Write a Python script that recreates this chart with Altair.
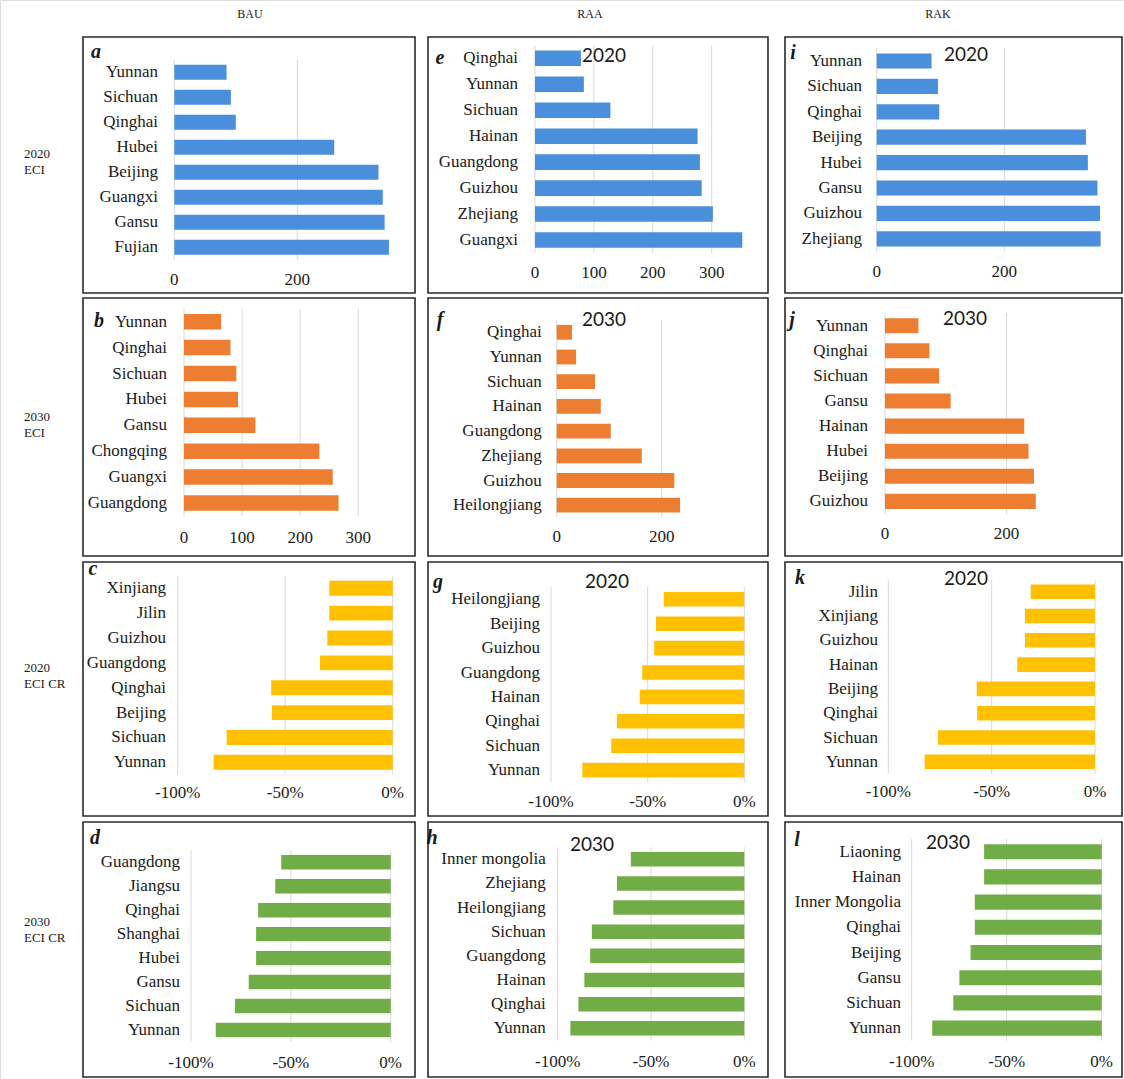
import altair as alt
import pandas as pd

# ---------------- data (top to bottom order in each panel) ----------------
a_cats = ["Yunnan", "Sichuan", "Qinghai", "Hubei", "Beijing", "Guangxi", "Gansu", "Fujian"]
a_vals = [85, 92, 100, 260, 332, 339, 342, 349]
e_cats = ["Qinghai", "Yunnan", "Sichuan", "Hainan", "Guangdong", "Guizhou", "Zhejiang", "Guangxi"]
e_vals = [78, 83, 128, 276, 280, 283, 302, 352]
i_cats = ["Yunnan", "Sichuan", "Qinghai", "Beijing", "Hubei", "Gansu", "Guizhou", "Zhejiang"]
i_vals = [86, 96, 98, 328, 331, 346, 350, 351]

b_cats = ["Yunnan", "Qinghai", "Sichuan", "Hubei", "Gansu", "Chongqing", "Guangxi", "Guangdong"]
b_vals = [64, 80, 90, 93, 123, 233, 256, 266]
f_cats = ["Qinghai", "Yunnan", "Sichuan", "Hainan", "Guangdong", "Zhejiang", "Guizhou", "Heilongjiang"]
f_vals = [29, 37, 73, 84, 103, 162, 224, 235]
j_cats = ["Yunnan", "Qinghai", "Sichuan", "Gansu", "Hainan", "Hubei", "Beijing", "Guizhou"]
j_vals = [55, 73, 89, 108, 229, 236, 245, 248]

c_cats = ["Xinjiang", "Jilin", "Guizhou", "Guangdong", "Qinghai", "Beijing", "Sichuan", "Yunnan"]
c_vals = [-29.5, -29.5, -30.4, -33.8, -56.5, -56.2, -77.2, -83.3]
g_cats = ["Heilongjiang", "Beijing", "Guizhou", "Guangdong", "Hainan", "Qinghai", "Sichuan", "Yunnan"]
g_vals = [-41.7, -45.7, -46.6, -52.8, -54.1, -65.9, -68.8, -83.8]
k_cats = ["Jilin", "Xinjiang", "Guizhou", "Hainan", "Beijing", "Qinghai", "Sichuan", "Yunnan"]
k_vals = [-31.1, -33.9, -33.9, -37.6, -57.2, -57.0, -76.0, -82.4]

d_cats = ["Guangdong", "Jiangsu", "Qinghai", "Shanghai", "Hubei", "Gansu", "Sichuan", "Yunnan"]
d_vals = [-54.8, -57.8, -66.4, -67.4, -67.4, -71.1, -78.0, -87.6]
h_cats = ["Inner mongolia", "Zhejiang", "Heilongjiang", "Sichuan", "Guangdong", "Hainan", "Qinghai", "Yunnan"]
h_vals = [-60.8, -68.2, -70.2, -81.7, -82.6, -85.7, -88.9, -93.2]
l_cats = ["Liaoning", "Hainan", "Inner Mongolia", "Qinghai", "Beijing", "Gansu", "Sichuan", "Yunnan"]
l_vals = [-61.9, -61.9, -66.8, -66.8, -69.0, -74.9, -78.1, -89.2]

ticks_a = [0, 200]
ticks_b = [0, 100, 200, 300]
ticks_pct = [-100, -50, 0]
tick_labels_a = ["0", "200"]
tick_labels_b = ["0", "100", "200", "300"]
tick_labels_pct = ["-100%", "-50%", "0%"]

col_headers = ["BAU", "RAA", "RAK"]
row_top = ["2020", "2030", "2020", "2030"]
row_bottom = ["ECI", "ECI", "ECI CR", "ECI CR"]

BLUE, ORANGE, YELLOW, GREEN = "#4A8FDB", "#ED7D31", "#FFC000", "#70AD47"
SERIF = "Liberation Serif"
SANS = "Lato"


def panel(cats, vals, color, ticks, tlabels, domain, xr, c1, step, lab_r, tick_y):
    r0 = c1 - step / 2
    r1 = r0 + 8 * step
    df = pd.DataFrame({"cat": cats, "val": vals})
    tdf = pd.DataFrame({"t": ticks, "lab": tlabels})
    xs = alt.Scale(domain=domain, range=xr, nice=False)
    ys = alt.Scale(domain=cats, range=[r0, r1], paddingInner=0.4, paddingOuter=0.2)
    grid = alt.Chart(tdf).mark_rule(color="#d9d9d9", strokeWidth=1).encode(
        x=alt.X("t:Q", scale=xs, axis=None), y=alt.value(r0), y2=alt.value(r1))
    bars = alt.Chart(df).mark_bar(color=color).encode(
        x=alt.X("val:Q", scale=xs, axis=None),
        y=alt.Y("cat:N", scale=ys, axis=None))
    labs = alt.Chart(df).mark_text(align="right", baseline="middle", font=SERIF,
                                   fontSize=17, color="#1a1a1a").encode(
        x=alt.value(lab_r), y=alt.Y("cat:N", scale=ys, axis=None), text="cat:N")
    tl = alt.Chart(tdf).mark_text(align="center", baseline="middle", font=SERIF,
                                  fontSize=17, color="#1a1a1a").encode(
        x=alt.X("t:Q", scale=xs, axis=None), y=alt.value(tick_y), text="lab:N")
    return alt.layer(grid, bars, labs, tl)


one = pd.DataFrame({"k": [0]})


def txt(s, x, y, font=SERIF, size=13, align="center", style="normal", weight="normal"):
    return alt.Chart(one).mark_text(text=s, font=font, fontSize=size, align=align,
                                    baseline="middle", fontStyle=style, fontWeight=weight,
                                    color="#1a1a1a").encode(x=alt.value(x), y=alt.value(y))


def box(x0, x1, y0, y1):
    return alt.Chart(one).mark_rect(fillOpacity=0, stroke="#2a2a2a", strokeWidth=1.6).encode(
        x=alt.value(x0), x2=alt.value(x1), y=alt.value(y0), y2=alt.value(y1))


panels = [
    panel(a_cats, a_vals, BLUE, ticks_a, tick_labels_a, [0, 400], [174.3, 420.3], 72.3, 25.0, 158, 280),
    panel(e_cats, e_vals, BLUE, ticks_b, tick_labels_b, [0, 400], [535, 770.6], 58.3, 25.96, 518, 273),
    panel(i_cats, i_vals, BLUE, ticks_a, tick_labels_a, [0, 400], [876.7, 1131.9], 61, 25.4, 862, 272),
    panel(b_cats, b_vals, ORANGE, ticks_b, tick_labels_b, [0, 400], [184, 416.4], 321.7, 25.9, 167, 538),
    panel(f_cats, f_vals, ORANGE, ticks_a, tick_labels_a, [0, 400], [556.7, 766.7], 332.3, 24.7, 541.7, 536.7),
    panel(j_cats, j_vals, ORANGE, ticks_a, tick_labels_a, [0, 400], [885, 1128.2], 325.7, 25.1, 868, 534),
    panel(c_cats, c_vals, YELLOW, ticks_pct, tick_labels_pct, [-100, 0], [177.7, 392.7], 588.3, 24.86, 166, 793),
    panel(g_cats, g_vals, YELLOW, ticks_pct, tick_labels_pct, [-100, 0], [551, 744.3], 599.3, 24.4, 540, 801.7),
    panel(k_cats, k_vals, YELLOW, ticks_pct, tick_labels_pct, [-100, 0], [888.3, 1095], 591.7, 24.3, 878, 791.7),
    panel(d_cats, d_vals, GREEN, ticks_pct, tick_labels_pct, [-100, 0], [191, 390.7], 862.3, 23.95, 180, 1063),
    panel(h_cats, h_vals, GREEN, ticks_pct, tick_labels_pct, [-100, 0], [557.7, 744.3], 859.3, 24.14, 545.7, 1061.7),
    panel(l_cats, l_vals, GREEN, ticks_pct, tick_labels_pct, [-100, 0], [911.7, 1101.7], 851.7, 25.2, 901, 1061.7),
]

boxes = []
for (y0, y1) in [(37, 293), (298, 556), (562, 816), (822, 1077)]:
    for (x0, x1) in [(83, 415), (428, 768), (785, 1122)]:
        boxes.append(box(x0, x1, y0, y1))

texts = [
    txt(col_headers[0], 250, 14, size=12),
    txt(col_headers[1], 590, 14, size=12),
    txt(col_headers[2], 938, 14, size=12),
]
for top, bot, yc in zip(row_top, row_bottom, [162, 425, 676, 930]):
    texts.append(txt(top, 24, yc - 8, size=13, align="left"))
    texts.append(txt(bot, 24, yc + 8, size=13, align="left"))

letters = [("a", 96, 52), ("b", 99, 321), ("c", 93, 569), ("d", 95, 838),
           ("e", 440, 58), ("f", 440, 320), ("g", 438, 582), ("h", 432, 838),
           ("i", 793, 53), ("j", 792, 320), ("k", 800, 578), ("l", 797, 840)]
for s, x, y in letters:
    texts.append(txt(s, x, y, size=20, style="italic", weight="bold"))

years = [("2020", 604, 56), ("2030", 604, 320), ("2020", 607, 582), ("2030", 592, 845),
         ("2020", 966, 55), ("2030", 965, 319), ("2020", 966, 579), ("2030", 948, 843)]
for s, x, y in years:
    texts.append(txt(s, x, y, font=SANS, size=19))

chart = alt.layer(*panels, *boxes, *texts).resolve_scale(
    x="independent", y="independent"
).properties(
    width=1124, height=1079, autosize=alt.AutoSizeParams(type="none"), padding=0
).configure_view(stroke="transparent", strokeWidth=0).configure(background="white")

chart.save("out.html", embed_options={"renderer": "svg", "actions": False})
